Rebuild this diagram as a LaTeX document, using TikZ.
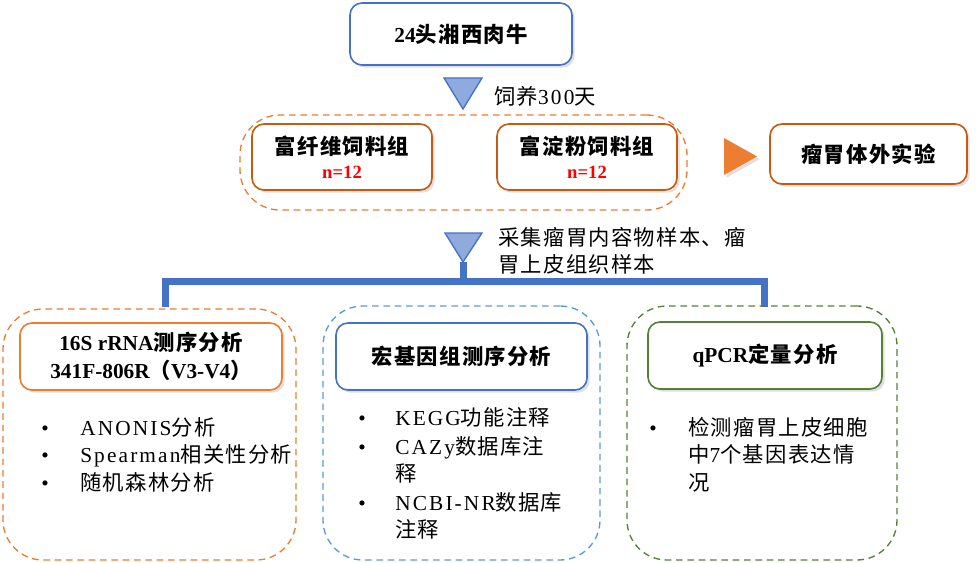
\documentclass[tikz,border=0pt]{standalone}
\usepackage{fontspec}
\setmainfont{Liberation Serif}
\newfontfamily\spaced{Liberation Serif}[LetterSpace=10]
\newfontfamily\cjk{Noto Sans CJK SC}[LetterSpace=6]
\newcommand{\zh}[1]{{\cjk #1}}
\usetikzlibrary{shadows}
\definecolor{bluebd}{HTML}{4472C4}
\definecolor{bluedash}{HTML}{5B9BD5}
\definecolor{trifill}{HTML}{8FAADC}
\definecolor{orangebd}{HTML}{C55A11}
\definecolor{orangelt}{HTML}{ED7D31}
\definecolor{greenbd}{HTML}{548235}
\tikzset{
  card/.style={rectangle, rounded corners=9pt, draw, line width=1.2pt, fill=white,
    align=center, inner sep=0pt, font=\fontsize{16}{21}\selectfont\bfseries,
    drop shadow={shadow xshift=2pt, shadow yshift=-2pt, opacity=0.25}},
  panel/.style={rectangle, rounded corners=30pt, draw, line width=1pt,
    dash pattern=on 5pt off 3.5pt, inner sep=0pt},
  tri/.style={draw=bluebd, fill=trifill, line width=1pt},
  bus/.style={draw=bluebd, line width=5.25pt},
  note/.style={anchor=west, inner sep=0pt, font=\fontsize{16}{21}\selectfont\spaced},
  item/.style={anchor=base west, inner sep=0pt, font=\fontsize{16}{21}\selectfont\spaced},
  bul/.style={anchor=base, inner sep=0pt, font=\fontsize{16}{21}\selectfont}
}
\begin{document}
\begin{tikzpicture}[x=0.75pt, y=-0.75pt]
    \useasboundingbox (0,0) rectangle (978,563);
    % cattle and the two diets
    \node[card, draw=bluebd, minimum width=166.5pt, minimum height=46.5pt] (cattle) at (461,34) {24\zh{头湘西肉牛}};
    \draw[tri] (444,78) -- (482,78) -- (463,109) -- cycle;
    \node[note] (feed) at (494,96) {\zh{饲养}300\zh{天}};
    \node[panel, draw=orangelt, minimum width=335.25pt, minimum height=71.25pt] (groups) at (463.5,162.5) {};
    \node[card, draw=orangebd, minimum width=135pt, minimum height=49.5pt] (fiber) at (342,157)
        {\zh{富纤维饲料组}\\[-3pt]{\fontsize{14}{16}\selectfont\color{red}n=12}};
    \node[card, draw=orangebd, minimum width=135pt, minimum height=49.5pt] (starch) at (587,157)
        {\zh{富淀粉饲料组}\\[-3pt]{\fontsize{14}{16}\selectfont\color{red}n=12}};
    \fill[orangelt, drop shadow={shadow xshift=2pt, shadow yshift=-2pt, opacity=0.25}] (724,138) -- (757,156.5) -- (724,175) -- cycle;
    \node[card, draw=orangebd, minimum width=147.75pt, minimum height=45pt] (vitro) at (868.5,154) {\zh{瘤胃体外实验}};
    % sampling
    \draw[tri] (445,233) -- (482,233) -- (463,262) -- cycle;
    \coordinate (tip) at (463,262);
    \node[note] (samp1) at (498,237) {\zh{采集瘤胃内容物样本、瘤}};
    \node[note] (samp2) at (498,264) {\zh{胃上皮组织样本}};
    \coordinate (bus) at (463,281);
    \coordinate (busL) at (165,303);
    \coordinate (busR) at (764.5,303);
    \draw[bus] (tip) -- (bus);
    \draw[bus, line cap=rect] (busL) -- (busL |- bus) -- (busR |- bus) -- (busR);
    % three analyses
    \node[panel, draw=orangelt, minimum width=219.75pt, minimum height=188.25pt] (p16s) at (149.5,434.5) {};
    \node[panel, draw=bluedash, minimum width=207.75pt, minimum height=190.5pt] (pmeta) at (461.5,433) {};
    \node[panel, draw=greenbd, minimum width=202.5pt, minimum height=190.5pt] (pqpcr) at (762,433) {};
    \node[card, draw=orangelt, minimum width=196.5pt, minimum height=50.25pt] (h16s) at (151,356.5)
        {16S rRNA\zh{测序分析}\\341F-806R\zh{（}V3-V4\zh{）}};
    \node[card, draw=bluebd, minimum width=188.25pt, minimum height=50.25pt] (hmeta) at (461.5,356.5) {\zh{宏基因组测序分析}};
    \node[card, draw=greenbd, minimum width=175.5pt, minimum height=50.25pt] (hqpcr) at (765,355.5) {qPCR\zh{定量分析}};
    \foreach \t [count=\i] in {ANONIS\zh{分析}, Spearman\zh{相关性分析}, \zh{随机森林分析}} {
        \node[bul] (lb\i) at (45,407.5+27.5*\i) {\textbullet};
        \node[item] (li\i) at (80,407.5+27.5*\i) {\t};
    }
    \node[bul] (mb1) at (362,425) {\textbullet};
    \node[item] (mi1) at (395,425) {KEGG\zh{功能注释}};
    \node[bul] (mb2) at (362,454) {\textbullet};
    \node[item] (mi2) at (395,454) {CAZy\zh{数据库注}};
    \node[item] (mi2b) at (395,481) {\zh{释}};
    \node[bul] (mb3) at (362,510) {\textbullet};
    \node[item] (mi3) at (395,510) {NCBI-NR\zh{数据库}};
    \node[item] (mi3b) at (395,537) {\zh{注释}};
    \node[bul] (rb1) at (653,435) {\textbullet};
    \node[item] (ri1) at (688,435) {\zh{检测瘤胃上皮细胞}};
    \node[item] (ri2) at (688,462.5) {\zh{中}7\zh{个基因表达情}};
    \node[item] (ri3) at (688,490) {\zh{况}};
\end{tikzpicture}
\end{document}
